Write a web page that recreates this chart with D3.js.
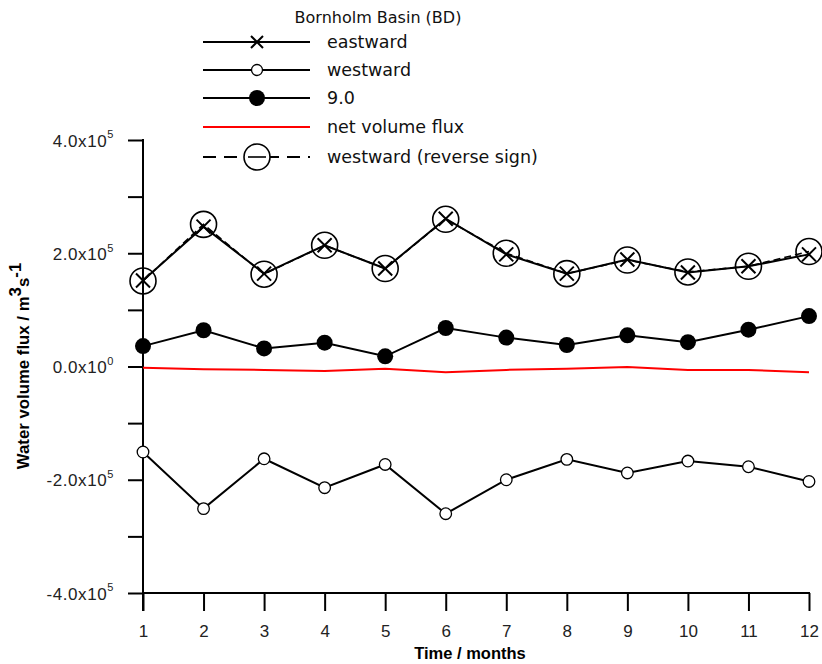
<!DOCTYPE html>
<html><head><meta charset="utf-8">
<script src="https://d3js.org/d3.v7.min.js"></script>
<style>
body{margin:0;background:#fff;}
svg{display:block;}
</style></head>
<body>
<svg id="chart" width="822" height="664"></svg>
<script>
// ---- data (values in m^3 s^-1) ----
const months = [1,2,3,4,5,6,7,8,9,10,11,12];
const eastward = [1.52e5,2.47e5,1.64e5,2.14e5,1.73e5,2.61e5,1.98e5,1.64e5,1.89e5,1.66e5,1.77e5,1.98e5];
const westward = [-1.51e5,-2.51e5,-1.63e5,-2.14e5,-1.73e5,-2.60e5,-2.00e5,-1.64e5,-1.88e5,-1.67e5,-1.77e5,-2.03e5];
const series90 = [0.36e5,0.64e5,0.32e5,0.42e5,0.18e5,0.68e5,0.51e5,0.38e5,0.55e5,0.43e5,0.65e5,0.89e5];
const netFlux = [-0.02e5,-0.05e5,-0.06e5,-0.08e5,-0.04e5,-0.10e5,-0.06e5,-0.04e5,-0.01e5,-0.06e5,-0.06e5,-0.10e5];
const westwardReverse = westward.map(v => -v);
const yTicks = [-4e5,-3e5,-2e5,-1e5,0,1e5,2e5,3e5,4e5];
const yTickLabels = {"-400000":["-4.0x10","5"],"-200000":["-2.0x10","5"],"0":["0.0x10","0"],"200000":["2.0x10","5"],"400000":["4.0x10","5"]};
const legendTitle = "Bornholm Basin (BD)";
const legendItems = ["eastward","westward","9.0","net volume flux","westward (reverse sign)"];

const svg = d3.select("#chart");
const x = d3.scaleLinear().domain([1,12]).range([143,809]);
const y = d3.scaleLinear().domain([-4e5,4e5]).range([593,140]);
const tickFont = "'Liberation Sans', Arial, sans-serif";

// axes
const yAxis = svg.append("g").attr("transform","translate(143,0)")
  .call(d3.axisLeft(y).tickValues(yTicks).tickSize(15).tickPadding(14).tickFormat(""));
yAxis.select(".domain").remove();
yAxis.selectAll(".tick line").attr("stroke","#000").attr("stroke-width",2);
yAxis.selectAll(".tick text").each(function(d){
  const lab = yTickLabels[String(d)];
  const t = d3.select(this);
  if(!lab){ t.remove(); return; }
  t.attr("font-family",tickFont).attr("font-size",17).attr("fill","#222").attr("letter-spacing","0.6px").attr("dy","0.36em").text(null);
  t.append("tspan").text(lab[0]);
  t.append("tspan").attr("font-size",11).attr("dy","-0.75em").text(lab[1]);
});
svg.append("line").attr("x1",143).attr("x2",143).attr("y1",y(4e5)-1).attr("y2",611).attr("stroke","#000").attr("stroke-width",2);

const xAxis = svg.append("g").attr("transform",`translate(0,${y(-4e5)})`)
  .call(d3.axisBottom(x).tickValues(months).tickSize(18).tickPadding(14).tickFormat(d3.format("d")));
xAxis.select(".domain").attr("stroke","#000").attr("stroke-width",2).attr("d",`M143,0H810`);
xAxis.selectAll(".tick line").attr("stroke","#000").attr("stroke-width",2);
xAxis.selectAll(".tick text").attr("font-family",tickFont).attr("font-size",17).attr("fill","#222");

// axis titles
svg.append("text").attr("x",470).attr("y",659).attr("text-anchor","middle")
  .attr("font-family",tickFont).attr("font-weight","bold").attr("font-size",16.5).text("Time / months");
const yt = svg.append("text").attr("transform","translate(29,366) rotate(-90)").attr("text-anchor","middle")
  .attr("font-family",tickFont).attr("font-weight","bold").attr("font-size",16.8);
yt.append("tspan").text("Water volume flux / m");
yt.append("tspan").attr("dy","-0.45em").text("3");
yt.append("tspan").attr("dy","0.45em").text("s");
yt.append("tspan").attr("dy","-0.45em").text("-1");

// data
const line = d3.line().x((d,i)=>x(months[i])).y(d=>y(d));
const plot = svg.append("g");
function xMark(g,cx,cy,s){
  g.append("path").attr("d",`M${cx-s},${cy-s}L${cx+s},${cy+s}M${cx-s},${cy+s}L${cx+s},${cy-s}`)
   .attr("stroke","#000").attr("stroke-width",2).attr("fill","none");
}
// net flux
plot.append("path").datum(netFlux).attr("d",line).attr("fill","none").attr("stroke","#ff0000").attr("stroke-width",2);
// 9.0
plot.append("path").datum(series90).attr("d",line).attr("fill","none").attr("stroke","#000").attr("stroke-width",2);
plot.selectAll(".p90").data(series90).join("circle").attr("cx",(d,i)=>x(months[i])).attr("cy",d=>y(d)).attr("r",8).attr("fill","#000");
// westward
plot.append("path").datum(westward).attr("d",line).attr("fill","none").attr("stroke","#000").attr("stroke-width",2);
plot.selectAll(".pw").data(westward).join("circle").attr("cx",(d,i)=>x(months[i])).attr("cy",d=>y(d)).attr("r",5.8).attr("fill","#fff").attr("stroke","#000").attr("stroke-width",1.3);
// eastward
plot.append("path").datum(eastward).attr("d",line).attr("fill","none").attr("stroke","#000").attr("stroke-width",2);
eastward.forEach((d,i)=>xMark(plot,x(months[i]),y(d),7));
// westward reverse sign
plot.append("path").datum(westwardReverse).attr("d",line).attr("fill","none").attr("stroke","#000").attr("stroke-width",1.6).attr("stroke-dasharray","7,4");
plot.selectAll(".pr").data(westwardReverse).join("circle").attr("cx",(d,i)=>x(months[i])).attr("cy",d=>y(d)).attr("r",13).attr("fill","none").attr("stroke","#000").attr("stroke-width",1.6);

// legend
const legFont = "'DejaVu Sans', Verdana, sans-serif";
const lg = svg.append("g");
lg.append("text").attr("x",378).attr("y",23).attr("text-anchor","middle").attr("font-family",legFont).attr("font-size",16).attr("fill","#111").text(legendTitle);
const rowsY = [42,70,98,127,157];
legendItems.forEach((name,i)=>{
  const yy = rowsY[i];
  const ln = lg.append("line").attr("x1",203).attr("x2",310).attr("y1",yy).attr("y2",yy).attr("stroke", i===3?"#ff0000":"#000").attr("stroke-width",2);
  if(i===4) ln.attr("stroke-dasharray","13,8");
  if(i===0) xMark(lg,257,yy,6);
  if(i===1) lg.append("circle").attr("cx",257).attr("cy",yy).attr("r",5.5).attr("fill","#fff").attr("stroke","#000").attr("stroke-width",1.3);
  if(i===2) lg.append("circle").attr("cx",257).attr("cy",yy).attr("r",8).attr("fill","#000");
  if(i===4){
    lg.append("circle").attr("cx",257).attr("cy",yy).attr("r",13).attr("fill","#fff").attr("stroke","#000").attr("stroke-width",1.6);
    lg.append("line").attr("x1",248).attr("x2",266).attr("y1",yy).attr("y2",yy).attr("stroke","#000").attr("stroke-width",1.6);
  }
  lg.append("text").attr("x",327).attr("y",yy).attr("dy","0.35em").attr("font-family",legFont).attr("font-size",17.5).attr("fill","#111").text(name);
});
</script>
</body></html>
